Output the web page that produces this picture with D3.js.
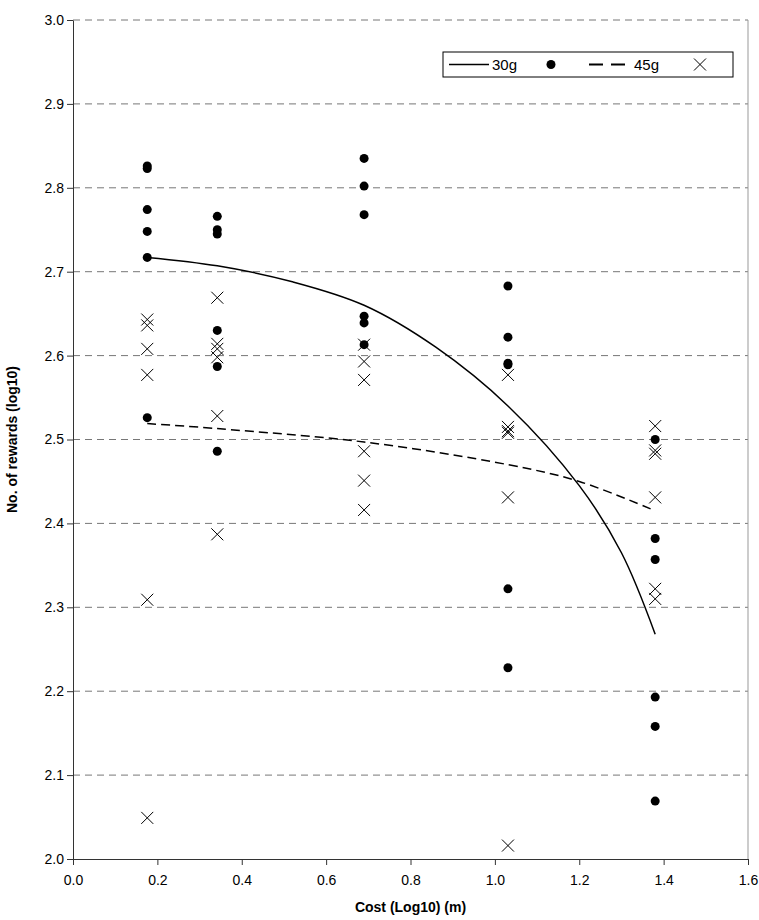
<!DOCTYPE html>
<html><head><meta charset="utf-8">
<script src="https://cdn.jsdelivr.net/npm/d3@7"></script>
<style>body{margin:0;background:#fff}text{font-family:"Liberation Sans",Arial,sans-serif}</style>
</head><body><svg id="chart" width="759" height="920"></svg>
<script>
const costs = [0.176, 0.342, 0.690, 1.031, 1.380];
const dots30 = [
  [2.826, 2.823, 2.774, 2.748, 2.717, 2.526],
  [2.766, 2.750, 2.745, 2.630, 2.587, 2.486],
  [2.835, 2.802, 2.768, 2.647, 2.639, 2.613],
  [2.683, 2.622, 2.591, 2.589, 2.322, 2.228],
  [2.500, 2.382, 2.357, 2.193, 2.158, 2.069]
];
const crosses45 = [
  [2.643, 2.636, 2.608, 2.577, 2.309, 2.049],
  [2.669, 2.614, 2.608, 2.598, 2.528, 2.387],
  [2.613, 2.593, 2.571, 2.486, 2.451, 2.416],
  [2.577, 2.515, 2.510, 2.508, 2.431, 2.016],
  [2.516, 2.487, 2.483, 2.431, 2.322, 2.310]
];
const fit30x = [0.176, 0.342, 0.52, 0.69, 0.86, 1.031, 1.2, 1.3, 1.38];
const fit30y = [2.717, 2.707, 2.688, 2.660, 2.610, 2.540, 2.445, 2.365, 2.268];
const fit45x = [0.176, 0.342, 0.69, 1.031, 1.2, 1.38];
const fit45y = [2.519, 2.513, 2.497, 2.470, 2.450, 2.415];
const xTicks = d3.range(0, 1.61, 0.2);
const yTicks = d3.range(2.0, 3.01, 0.1);

const svg = d3.select("#chart");
const margin = {left: 73, right: 11, top: 20, bottom: 61};
const x = d3.scaleLinear().domain([0, 1.6]).range([margin.left, 759 - margin.right]);
const y = d3.scaleLinear().domain([2.0, 3.0]).range([920 - margin.bottom, margin.top]);

// grid
svg.append("g").selectAll("line").data(yTicks.slice(1)).join("line")
   .attr("x1", x(0)).attr("x2", x(1.6))
   .attr("y1", d => y(d)).attr("y2", d => y(d))
   .attr("stroke", "#777").attr("stroke-dasharray", "7,5");
svg.append("line").attr("x1", x(1.6)).attr("x2", x(1.6))
   .attr("y1", y(3)).attr("y2", y(2)).attr("stroke", "#999");

const xAxis = svg.append("g").attr("transform", `translate(0,${y(2)})`)
   .call(d3.axisBottom(x).tickValues(xTicks).tickFormat(d3.format(".1f")).tickSize(6).tickSizeOuter(0));
const yAxis = svg.append("g").attr("transform", `translate(${x(0)},0)`)
   .call(d3.axisLeft(y).tickValues(yTicks).tickFormat(d3.format(".1f")).tickSize(6).tickSizeOuter(0));
[xAxis, yAxis].forEach(a => {
  a.selectAll("path,line").attr("stroke", "#333");
  a.selectAll("text").attr("font-size", 14).attr("fill", "#000").style("font-family", "Liberation Sans, Arial");
});
xAxis.selectAll("text").attr("dy", "1.2em");

svg.append("text").attr("x", (x(0) + x(1.6)) / 2).attr("y", 912).attr("text-anchor", "middle")
   .attr("font-size", 14).attr("font-weight", "bold").text("Cost (Log10) (m)");
svg.append("text").attr("transform", `translate(17,${(y(2) + y(3)) / 2}) rotate(-90)`)
   .attr("text-anchor", "middle").attr("font-size", 14).attr("font-weight", "bold").text("No. of rewards (log10)");

// fitted lines
const line = d3.line().x(d => x(d[0])).y(d => y(d[1])).curve(d3.curveCatmullRom);
svg.append("path").datum(d3.zip(fit30x, fit30y)).attr("d", line)
   .attr("fill", "none").attr("stroke", "#000").attr("stroke-width", 1.5);
svg.append("path").datum(d3.zip(fit45x, fit45y)).attr("d", line)
   .attr("fill", "none").attr("stroke", "#000").attr("stroke-width", 1.5).attr("stroke-dasharray", "9,5");

// points
const pts30 = costs.flatMap((c, i) => dots30[i].map(v => [c, v]));
const pts45 = costs.flatMap((c, i) => crosses45[i].map(v => [c, v]));
svg.append("g").selectAll("circle").data(pts30).join("circle")
   .attr("cx", d => x(d[0])).attr("cy", d => y(d[1])).attr("r", 4.5).attr("fill", "#000");
const cross = "M-6,-6L6,6M-6,6L6,-6";
svg.append("g").selectAll("path").data(pts45).join("path")
   .attr("transform", d => `translate(${x(d[0])},${y(d[1])})`).attr("d", cross)
   .attr("stroke", "#000").attr("stroke-width", 1).attr("fill", "none");

// legend
const lg = svg.append("g").attr("transform", "translate(443,52)");
lg.append("rect").attr("width", 290).attr("height", 25).attr("fill", "#fff").attr("stroke", "#000");
lg.append("line").attr("x1", 6).attr("x2", 46).attr("y1", 12.5).attr("y2", 12.5).attr("stroke", "#000").attr("stroke-width", 1.5);
lg.append("text").attr("x", 49).attr("y", 18).attr("font-size", 15).text("30g");
lg.append("circle").attr("cx", 108).attr("cy", 12.5).attr("r", 4.5);
lg.append("line").attr("x1", 146).attr("x2", 186).attr("y1", 12.5).attr("y2", 12.5).attr("stroke", "#000")
  .attr("stroke-width", 2).attr("stroke-dasharray", "14,8");
lg.append("text").attr("x", 191).attr("y", 18).attr("font-size", 15).text("45g");
lg.append("path").attr("transform", "translate(257,12.5)").attr("d", cross).attr("stroke", "#000");
</script></body></html>
